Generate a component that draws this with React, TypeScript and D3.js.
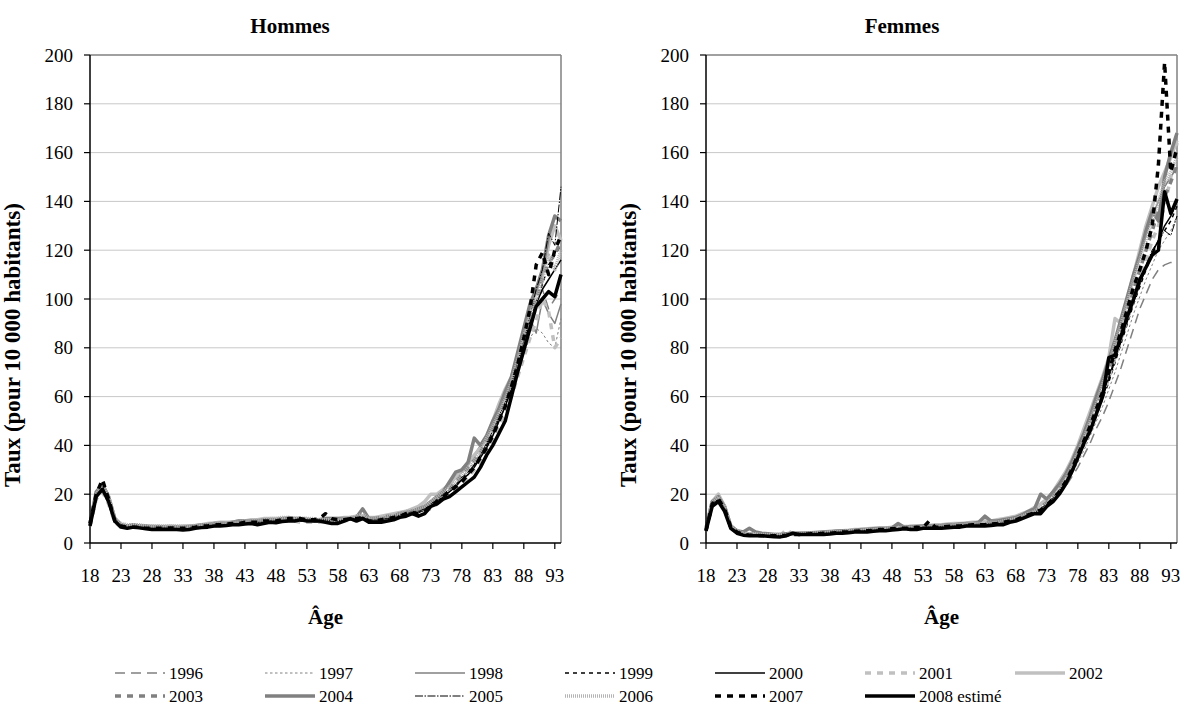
import React from "react";
import * as d3 from "d3";

// ---------- DATA ----------
const AGES: number[] = d3.range(18, 95);
const X_TICKS: number[] = [18, 23, 28, 33, 38, 43, 48, 53, 58, 63, 68, 73, 78, 83, 88, 93];
const Y_TICKS: number[] = [0, 20, 40, 60, 80, 100, 120, 140, 160, 180, 200];
const YEARS: string[] = ["1996", "1997", "1998", "1999", "2000", "2001", "2002", "2003", "2004", "2005", "2006", "2007", "2008 estimé"];

// Hommes
const H1996 = [7.5,19,23,18,9.5,7.5,7,7,7,7, 7,6.8,6.8,6.8,6.8,6.8,7,7,7.2,7.5, 8,8,8.2,8.5,8.5,9,9,9,9.5,9.5, 9.5,10,10,10,9.5,9.5,9.5,9.5,9.5,10, 10,10,10.5,10.5,11,10.5,10.5,11,11.5,12, 12.5,13,13.5,14,15,16,17,19,21,24, 26,29,32,36,40,44,50,56,63,72, 80,90,98,104,96,100,104];
const H1997 = [7,19,22,17,9,7,6.5,6.5,6.5,6.5, 6.5,6.2,6.2,6.2,6.2,6.2,6.5,6.8,7,7.2, 7.5,7.5,8,8,8.2,8.5,8.5,8.8,9,9.2, 9.2,9.5,9.5,9.5,9,9,9,9,9.2,9.5, 9.5,9.5,10,10,10.5,10,10,10.5,11,11, 11.5,12,13,13.5,14.5,16,18,20,22,25, 27,30,33,37,41,45,50,56,62,70, 78,84,88,86,82,80,92];
const H1998 = [7.5,20,24,18,9.5,7.5,7,7,7,6.8, 6.8,6.5,6.8,6.5,6.8,6.5,6.8,7,7.2,7.5, 8,8,8.5,8.5,8.5,9,9,9.5,9.5,10, 10,10,10,10,9.5,9.5,9.5,9.5,9.5,10, 10,10,10.5,10.5,11,10.5,10.5,11,11.5,12, 12.5,13,14,14.5,15,17,19,22,24,27, 29,32,36,40,44,48,54,60,66,74, 82,92,86,100,94,90,98];
const H1999 = [7.5,19,23,18,9.5,7,6.5,6.8,6.5,6.2, 6.2,6,6,6,6,6,6.2,6.5,6.8,7.2, 7.5,7.5,7.8,8,8.2,8.5,8.5,8.8,9,9, 9.2,9.2,9.5,9.5,9.2,9,9,9,9.5,9.5, 9.5,9.5,10,10,10.5,9.5,9.5,10,10.5,11, 11.5,12,12.5,13,14,15.5,17,19,21,24, 26,29,32,36,40,45,51,57,64,72, 81,91,99,106,114,118,122];
const H2000 = [7,19,23,17,9,6.5,6.2,6.5,6.2,6, 5.8,5.8,5.8,5.8,5.8,5.6,5.8,6.2,6.5,6.8, 7,7.2,7.5,7.8,8,8,8.2,8.2,8.5,8.8, 8.8,9,9,9,9,9,8.8,8.8,9,9, 9,9.2,9.5,9.5,10,9.2,9.2,9.5,10,10.5, 11,11.5,12,12.5,13.5,15,17,19,21,23, 26,28,31,35,39,44,50,56,63,71, 80,90,98,104,108,112,116];
const H2001 = [7,18,21,16,8.5,6.5,6.2,6.5,6.2,6, 6,6,6,6,6,6,6.2,6.5,6.8,7, 7,7.2,7.5,7.5,8,8,8.2,8.5,8.5,9, 9,9,9,9,8.5,8.5,8.5,8.5,9,9, 9,9,9.5,9.5,10,9.5,9.5,10,10,10.5, 11,11.5,12,12.5,13,14,16,18,20,22, 24,27,30,33,37,42,47,53,60,68, 76,84,91,100,95,80,84];
const H2002 = [8,20,24,19,10,7.5,7,7,7,7, 7,6.8,6.8,7,6.8,7,7,7.2,7.5,8, 8.2,8.5,8.5,8.5,9,9,9.5,9.5,10,10, 10,10,10.5,10,10,10,9.5,9.5,10,10, 10,10.5,10.5,11,11,10.5,10.5,11,11.5,12, 12.5,13,14,15,17,20,20,22,24,27, 30,33,36,39,43,50,57,63,68,76, 86,96,104,110,122,130,124];
const H2003 = [7,19,22,17,9,7,6.5,7,6.5,6.5, 6.5,6.5,6.5,6.3,6.5,6.3,6.5,7,7,7.5, 7.5,8,8,8,8.5,8.5,8.5,9,9,9.5, 9.5,9.5,9.5,10,9.5,9.5,9,9,9.5,9.5, 9.5,10,10,10,10.5,10,10,10.5,11,11, 12,12.5,13,13.5,14,16,18,20,22,25, 28,31,34,37,42,47,52,59,66,74, 83,92,100,108,115,118,124];
const H2004 = [8,21,24,19,10,7.5,7,7.5,7,7, 6.5,6.8,6.5,6.5,6.5,6.5,6.8,7,7.5,7.5, 8,8,8,8.5,9,9,9,9,9.5,9.5, 9.5,10,10,10,10,9.5,9.5,9.5,10,10, 10,10,10,10.5,14,10,10,10,10.5,11, 12,12.5,13,14,15,17,19,21,25,29, 30,33,43,40,44,50,55,62,68,78, 88,98,104,112,126,134,132];
const H2005 = [7.5,19,23,18,9.5,7,6.5,6.8,6.5,6.2, 6,6,6,6,6,5.8,6,6.3,6.6,7, 7.2,7.5,7.5,8,8,8,8.5,8.5,8.5,9, 9,9,9.5,9.5,9.5,9,9,9.5,9.5,9, 9,9.5,10,10,10.5,9.5,9.5,10,10,10.5, 11.5,12,13,13,14,16,18,20,22,24, 27,29,32,36,41,46,52,58,65,74, 83,93,104,112,127,122,146];
const H2006 = [8,20,24,19,10,8,7.5,7.5,7.5,7, 7,7,7,7,7,6.8,7,7.2,7.5,7.5, 8,8,8.2,8.5,8.5,9,9,9.5,9.5,10, 10,10.5,10.5,10,10,10,10,9.5,9.5,9.5, 9.5,10,10.5,11,12,10,10,10.5,11,11.5, 12,13,13.5,14,15,17,19,21,23,25, 28,31,34,38,43,48,53,59,66,75, 85,94,100,108,118,112,120];
const H2007 = [8,20,26,18,9,7,6.5,6.5,6.5,6, 6,6,6,6.2,6,6,6.2,6.5,7,7, 7.5,7.5,7.8,8,8,8.5,8.5,8.5,9,9, 9,9.5,10,10,10,9.5,9.5,10,12,10, 9.5,9.5,10,10,10.5,9,9,9.5,10,10.5, 11,12,12.5,12,13,15,17,19,21,23, 25,28,31,35,39,44,50,56,64,73, 84,96,114,119,110,120,126];
const H2008 = [7,19,22,17,9,6.5,6,6.5,6.2,5.8, 5.5,5.5,5.6,5.5,5.5,5.3,5.5,6,6.3,6.5, 7,7,7.2,7.5,7.5,7.8,8,7.5,8,8.5, 8.3,8.8,9,9,9.5,9,9,9,8.5,8, 8,9,10,9,10,8.5,8.5,8.5,9,9.5, 10.5,11,12,11,12,15,16,18,19,21, 23,25,27,31,36,40,45,50,60,70, 79,88,97,100,103,101,110];

// Femmes
const F1996 = [5.5,16,18,14,6.5,4.5,3.8,3.5,3.5,3.2, 3.2,3.2,3.2,3.5,3.5,3.8,3.8,4,4,4.2, 4.2,4.5,4.5,4.8,5,5,5.2,5.5,5.5,5.8, 6,6,6.2,6.2,6.5,6.5,6.8,6.8,7,7, 7.2,7.5,7.5,7.8,8,8,8.5,8.5,9,9.5, 10,10.5,11.5,12.5,14,15.5,17.5,20,23,27, 31,36,41,47,52,58,65,72,80,88, 96,102,108,112,114,115,115];
const F1997 = [5.5,16,18,14,6.5,4.5,3.8,3.5,3.5,3.2, 3.2,3.2,3.2,3.5,3.5,3.8,3.8,4,4,4.2, 4.2,4.5,4.5,4.8,5,5,5.2,5.5,5.5,5.8, 6,6,6.2,6.2,6.5,6.5,6.8,6.8,7,7, 7.2,7.5,7.5,7.8,8,8,8.5,8.5,9,9.5, 10,11,12,13,14.5,16,18.5,21,24,28, 33,38,44,50,56,63,70,78,86,94, 101,108,114,120,124,128,134];
const F1998 = [6,17,19,15,7,5,4,3.8,3.8,3.5, 3.5,3.5,3.5,3.8,4,4,4,4.2,4.2,4.5, 4.5,4.8,5,5,5.2,5.5,5.5,5.8,6,6, 6.2,6.5,6.5,6.8,6.8,7,7,7.2,7.5,7.5, 7.8,8,8,8.2,8.5,8.5,9,9,9.5,10, 10.5,11.5,12.5,14,15.5,17.5,20,23.5,27,32, 38,44,51,58,66,74,82,91,100,110, 118,126,134,140,146,150,154];
const F1999 = [5.5,16,18,14,6.5,4.5,3.5,3.3,3.2,3.2, 3.2,3,3,3.2,3.5,3.5,3.5,3.8,3.8,4, 4,4.2,4.5,4.5,4.8,5,5,5.2,5.5,5.5, 5.8,6,6,6.2,6.2,6.5,6.5,6.8,6.8,7, 7,7.2,7.5,7.5,7.8,8,8,8.5,8.5,9, 9.5,10.5,11.5,12.5,14,16,18,21,25,29, 34,40,46,52,59,66,74,82,90,98, 105,112,118,124,128,132,138];
const F2000 = [5,15,18,13,6,4,3.5,3.2,3.2,3, 3,3,3,3.2,3.5,3.5,3.5,3.7,3.8,3.8, 4,4.2,4.2,4.5,4.8,4.8,5,5.2,5.2,5.5, 5.8,5.8,6,6,6.2,6.2,6.5,6.5,6.8,6.8, 7,7,7.2,7.5,7.5,7.8,8,8,8.5,9, 9.5,10.5,11.5,12.5,14,16,18.5,21.5,25,30, 35,41,47,53,60,67,75,83,91,99, 106,113,119,124,130,134,140];
const F2001 = [5.5,16,19,14,6.5,4.5,3.8,3.5,3.5,3.2, 3.2,3.2,3.2,5.5,3.5,3.5,3.8,3.8,4,4, 4.2,4.5,4.5,4.8,5,5,5.2,5.2,5.5,5.8, 6,6,6.2,6.2,6.5,6.5,6.5,6.8,7,7, 7.2,7.2,7.5,7.8,8,8,8.5,8.5,9,9.5, 10,10.5,11.5,12.5,14,16,18.5,21.5,25,30, 35,41,47,54,61,68,76,84,92,100, 108,116,124,130,138,150,164];
const F2002 = [6,17,20,15,7,5,4,3.8,3.8,3.5, 3.5,3.5,3.5,3.8,4,4,4.2,4.2,4.5,4.5, 4.8,5,5,5.2,5.5,5.5,5.8,6,6,6.2, 6.5,6.5,6.8,6.8,7,7,7.2,7.5,7.5,7.8, 8,8,8.2,8.5,8.5,9,9,9.5,10,10.5, 11,12,13,14.5,16,18,21,25,29,34, 40,47,54,61,68,76,92,90,100,110, 120,130,138,146,152,158,165];
const F2003 = [5.5,16,18,14,6.5,4.5,3.8,3.5,3.5,3.2, 3.2,3.2,3.2,3.5,3.5,3.8,3.8,4,4,4.2, 4.2,4.5,4.5,4.8,5,5,5.2,5.5,5.5,5.8, 6,6,6.2,6.2,6.5,6.5,6.8,6.8,7,7, 7.2,7.5,7.5,7.8,8,8,8.5,8.5,9,9.5, 10,11,12,13,14.5,16.5,19,22,26,31, 37,43,49,56,63,70,78,87,95,104, 112,120,128,136,142,148,155];
const F2004 = [6,17,19,15,7,5,4.5,6,4.5,4, 3.8,3.5,3.5,3.8,4,4,4,4.2,4.2,4.5, 4.5,4.8,5,5,5.2,5.5,5.5,5.8,6,6, 6.2,8,6.5,6.8,6.8,7,7,7,7.2,7.5, 7.5,7.8,8,8,8.5,11,9,9,9.5,10, 10.5,11.5,13,14,20,18,21,24,28,33, 39,45,52,60,67,75,83,92,101,110, 118,128,136,132,150,160,168];
const F2005 = [5.5,16,18,14,6.5,4.5,3.5,3.3,3.2,3.2, 3,3,3,3.2,3.5,3.5,3.5,3.7,3.8,4, 4,4.2,4.5,4.5,4.8,5,5,5.2,5.5,5.5, 5.8,6,6,6.2,6.2,6.5,6.5,6.5,6.8,7, 7,7.2,7.5,7.5,7.8,8,8,8.2,8.5,9, 9.5,10.5,11.5,12.5,14,16,18.5,21.5,25,30, 35,41,47,54,61,68,76,84,92,100, 107,114,120,124,128,126,134];
const F2006 = [6,17,19,15,7,5,4,3.8,3.8,3.5, 3.5,3.5,3.5,3.5,3.8,4,4,4,4.2,4.2, 4.5,4.5,4.8,5,5,5.2,5.5,5.5,5.8,6, 6,6.2,6.5,6.5,6.5,6.8,6.8,7,7,7.2, 7.5,7.5,7.8,8,8,8.2,8.5,8.5,9,9.5, 10,11,12,13,14.5,16.5,19,22,26,31, 37,43,50,57,65,73,82,90,99,108, 116,124,132,140,148,152,158];
const F2007 = [5,16,18,14,6.5,4.5,3.5,3.2,3.2,3, 3,3,3,3.2,3.5,3.5,3.5,3.8,3.8,4, 4,4.2,4.5,4.5,4.8,5,5,5.2,5.5,5.5, 5.8,6,6,6,6.5,6.2,9,6.5,6.5,6.8, 7,7,7.2,7.5,7.5,7.5,7.8,8,8.5,9, 9.5,10.5,11.5,12.5,13.5,15.5,18,21,25,30, 36,42,48,55,62,70,79,87,96,105, 112,120,130,155,197,152,162];
const F2008 = [5,15,17,13,6,4,3.2,3,3,3, 2.8,2.6,2.5,3,4,3.5,3.5,3.5,3.5,3.5, 3.7,4,4,4.2,4.5,4.5,4.5,4.8,5,5, 5.3,5.5,5.8,5.5,5.5,6,6,6,6,6.2, 6.5,6.5,7,7,7,7,7.2,7.5,7.5,8.5, 9,10,11,12,12,15,17,20,24,29, 35,41,46,53,60,76,77,85,93,100, 108,113,118,120,144,135,141];

const HOMMES: number[][] = [H1996, H1997, H1998, H1999, H2000, H2001, H2002, H2003, H2004, H2005, H2006, H2007, H2008];
const FEMMES: number[][] = [F1996, F1997, F1998, F1999, F2000, F2001, F2002, F2003, F2004, F2005, F2006, F2007, F2008];

// ---------- STYLES ----------
type Sty = { color: string; width: number; dash?: string };
const STYLES: Sty[] = [
  { color: "#808080", width: 1.5, dash: "10,6" },
  { color: "#808080", width: 1, dash: "2.5,2.5" },
  { color: "#808080", width: 1.5 },
  { color: "#000000", width: 1.5, dash: "4,4" },
  { color: "#000000", width: 1.5 },
  { color: "#c0c0c0", width: 3.5, dash: "6,6" },
  { color: "#c0c0c0", width: 3.5 },
  { color: "#808080", width: 3.5, dash: "6,6" },
  { color: "#808080", width: 3.5 },
  { color: "#000000", width: 1, dash: "8,1.5,1.5,1.5" },
  { color: "#b4b4b4", width: 3.5, dash: "1,1" },
  { color: "#000000", width: 3.5, dash: "6,6" },
  { color: "#000000", width: 3.5 },
];

const FONT = "Liberation Serif, Times New Roman, Liberation Sans, Arial, sans-serif";
const W = 1184;
const H = 711;
const txt: React.CSSProperties = { fontFamily: FONT };

function Panel({ x0, title, titleX, data }: { x0: number; title: string; titleX: number; data: number[][] }) {
  const left = x0;
  const right = x0 + 471;
  const top = 55;
  const bottom = 543;
  const x = d3.scaleLinear().domain([18, 94]).range([left, right]);
  const y = d3.scaleLinear().domain([0, 200]).range([bottom, top]);
  const line = d3
    .line<number>()
    .x((_, i) => x(AGES[i]))
    .y((d) => y(d));
  const cx = (left + right) / 2;
  return (
    <g>
      {Y_TICKS.filter((t) => t > 0 && t < 200).map((t) => (
        <line key={"g" + t} x1={left} x2={right} y1={y(t)} y2={y(t)} stroke="#c8c8c8" strokeWidth={1} />
      ))}
      <line x1={left} x2={right} y1={top} y2={top} stroke="#808080" strokeWidth={1.5} />
      <line x1={right} x2={right} y1={top} y2={bottom} stroke="#808080" strokeWidth={1.5} />
      {data.map((s, i) => (
        <path
          key={"s" + i}
          d={line(s) || ""}
          fill="none"
          stroke={STYLES[i].color}
          strokeWidth={STYLES[i].width}
          strokeDasharray={STYLES[i].dash}
          strokeLinejoin="round"
        />
      ))}
      <line x1={left} x2={left} y1={top} y2={bottom} stroke="#000" strokeWidth={1.5} />
      <line x1={left} x2={right} y1={bottom} y2={bottom} stroke="#000" strokeWidth={1.5} />
      {Y_TICKS.map((t) => (
        <g key={"yt" + t}>
          <line x1={left - 6} x2={left} y1={y(t)} y2={y(t)} stroke="#000" strokeWidth={1.2} />
          <text x={left - 17} y={y(t)} dy="0.35em" textAnchor="end" fontSize={19} style={txt}>
            {t}
          </text>
        </g>
      ))}
      {X_TICKS.map((t) => (
        <g key={"xt" + t}>
          <line x1={x(t)} x2={x(t)} y1={bottom} y2={bottom + 6} stroke="#000" strokeWidth={1.2} />
          <text x={x(t)} y={582} textAnchor="middle" fontSize={19} style={txt}>
            {t}
          </text>
        </g>
      ))}
      <text x={titleX} y={33} textAnchor="middle" fontSize={21} fontWeight="bold" style={txt}>
        {title}
      </text>
      <text x={cx} y={624} textAnchor="middle" fontSize={21} fontWeight="bold" style={txt}>
        Âge
      </text>
      <text
        transform={`translate(${x0 - 70},${345}) rotate(-90)`}
        textAnchor="middle"
        fontSize={23}
        fontWeight="bold"
        style={txt}
      >
        Taux (pour 10 000 habitants)
      </text>
    </g>
  );
}

function Legend() {
  const rows = [YEARS.slice(0, 7), YEARS.slice(7)];
  return (
    <g>
      {rows.map((row, r) =>
        row.map((label, j) => {
          const idx = r * 7 + j;
          const lx = 115 + 150 * j;
          const ly = r === 0 ? 673 : 696;
          const s = STYLES[idx];
          return (
            <g key={label}>
              <line x1={lx} x2={lx + 50} y1={ly} y2={ly} stroke={s.color} strokeWidth={s.width} strokeDasharray={s.dash} />
              <text x={lx + 54} y={ly} dy="0.35em" fontSize={17} style={txt}>
                {label}
              </text>
            </g>
          );
        })
      )}
    </g>
  );
}

export default function App() {
  return (
    <svg width={W} height={H} style={{ position: "absolute", left: 0, top: 0, background: "#fff", fontFamily: FONT }}>
      <rect x={0} y={0} width={W} height={H} fill="#fff" />
      <Panel x0={90} title="Hommes" titleX={290} data={HOMMES} />
      <Panel x0={706} title="Femmes" titleX={902} data={FEMMES} />
      <Legend />
    </svg>
  );
}
